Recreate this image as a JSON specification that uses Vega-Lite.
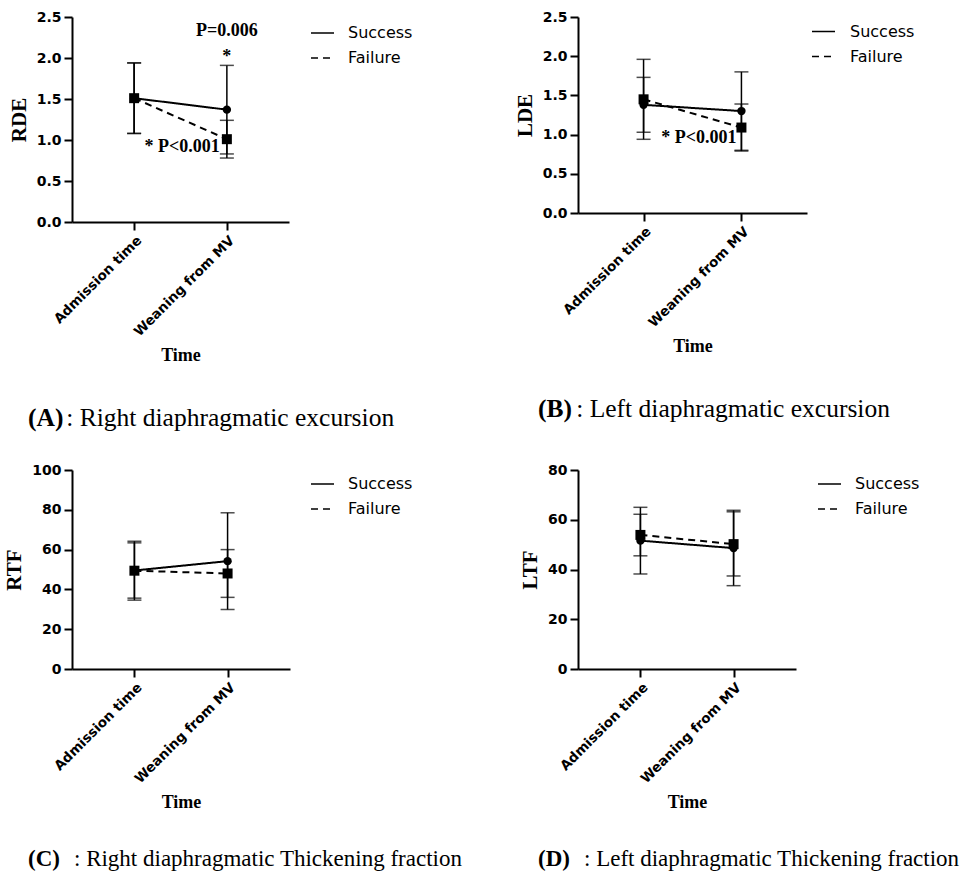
{
  "$schema": "https://vega.github.io/schema/vega-lite/v6.json",
  "padding": {"left": 3, "top": 10, "right": 0, "bottom": 0},
  "autosize": {"type": "pad"},
  "background": "white",
  "columns": 2,
  "bounds": "flush",
  "spacing": {"row": 248, "column": 288},
  "resolve": {"scale": {"strokeDash": "independent"}, "legend": {"strokeDash": "independent"}},
  "concat": [
    {
      "width": 217, "height": 205,
      "title": {"text": "(A)", "subtitle": "\u200b\u00a0\u00a0\u00a0\u00a0\u00a0\u00a0: Right diaphragmatic excursion", "dx": -44, "offset": 42, "fontSize": 25.5, "subtitleFontSize": 25.5, "subtitlePadding": -25.5},
      "data": {"values": [
        {"time": "Admission time", "group": "Success", "mean": 1.51, "lo": 1.08, "hi": 1.94},
        {"time": "Weaning from MV", "group": "Success", "mean": 1.37, "lo": 0.83, "hi": 1.91},
        {"time": "Admission time", "group": "Failure", "mean": 1.51, "lo": 1.08, "hi": 1.94},
        {"time": "Weaning from MV", "group": "Failure", "mean": 1.01, "lo": 0.78, "hi": 1.24}
      ]},
      "encoding": {
        "x": {"field": "time", "type": "ordinal", "scale": {"type": "point", "padding": 0.67, "domain": ["Admission time", "Weaning from MV"]}, "axis": {"title": "Time"}},
        "y": {"field": "mean", "type": "quantitative", "title": "RDE", "scale": {"domain": [0, 2.5], "nice": false}, "axis": {"values": [0, 0.5, 1, 1.5, 2, 2.5], "format": ".1f"}}
      },
      "layer": [
        {"mark": {"type": "errorbar", "ticks": true, "size": 14, "thickness": 1.5, "color": "black"},
         "encoding": {"y": {"field": "lo", "type": "quantitative", "title": "RDE", "scale": {"domain": [0, 2.5], "nice": false}}, "y2": {"field": "hi"}}},
        {"mark": {"type": "line", "color": "black", "strokeWidth": 2},
         "encoding": {"strokeDash": {"field": "group", "type": "nominal", "scale": {"domain": ["Success", "Failure"], "range": [[1, 0], [7, 5]]},
           "legend": {"title": null, "orient": "none", "legendX": 238, "legendY": 3.5, "symbolSize": 529, "labelFont": "DejaVu Sans", "labelFontSize": 16, "labelColor": "black", "labelOffset": 13, "rowPadding": 4,
             "encode": {"symbols": {"shape": {"value": {"expr": "datum.value === 'Success' ? 'M-1,0H1M-0.3,0A0.3,0.3 0 1,0 0.3,0A0.3,0.3 0 1,0 -0.3,0Z' : 'M-1.1,0H-0.6M0.6,0H1.1M-0.3,-0.3H0.3V0.3H-0.3Z'"}}, "stroke": {"value": "black"}, "strokeWidth": {"value": 2}, "strokeDash": {"value": [1, 0]}, "fill": {"value": "black"}, "opacity": {"value": 1}}}}}}},
        {"transform": [{"filter": "datum.group === 'Success'"}],
         "mark": {"type": "point", "filled": true, "shape": "circle", "color": "black", "opacity": 1, "size": 70}},
        {"transform": [{"filter": "datum.group === 'Failure'"}],
         "mark": {"type": "point", "filled": true, "shape": "square", "color": "black", "opacity": 1, "size": 100}},
        {"data": {"values": [{"time": "Weaning from MV", "v": 2.265, "label": "P=0.006"}, {"time": "Weaning from MV", "v": 1.95, "label": "*"}]},
         "mark": {"type": "text", "align": "center", "baseline": "alphabetic", "font": "Liberation Serif", "fontWeight": "bold", "fontSize": 18, "color": "black"},
         "encoding": {"y": {"field": "v", "type": "quantitative", "title": "RDE", "scale": {"domain": [0, 2.5], "nice": false}}, "text": {"field": "label"}}},
        {"data": {"values": [{"time": "Weaning from MV", "v": 0.857, "label": "* P<0.001"}]},
         "mark": {"type": "text", "align": "right", "dx": -7, "baseline": "alphabetic", "font": "Liberation Serif", "fontWeight": "bold", "fontSize": 18, "color": "black"},
         "encoding": {"y": {"field": "v", "type": "quantitative", "title": "RDE", "scale": {"domain": [0, 2.5], "nice": false}}, "text": {"field": "label"}}}
      ]
    },
    {
      "width": 229, "height": 196,
      "title": {"text": "(B)", "subtitle": "\u200b\u00a0\u00a0\u00a0\u00a0\u00a0\u00a0: Left diaphragmatic excursion", "dx": -40, "offset": 42, "fontSize": 25.5, "subtitleFontSize": 25.5, "subtitlePadding": -25.5},
      "data": {"values": [
        {"time": "Admission time", "group": "Success", "mean": 1.38, "lo": 1.03, "hi": 1.73},
        {"time": "Weaning from MV", "group": "Success", "mean": 1.30, "lo": 0.80, "hi": 1.80},
        {"time": "Admission time", "group": "Failure", "mean": 1.45, "lo": 0.94, "hi": 1.96},
        {"time": "Weaning from MV", "group": "Failure", "mean": 1.09, "lo": 0.79, "hi": 1.39}
      ]},
      "encoding": {
        "x": {"field": "time", "type": "ordinal", "scale": {"type": "point", "padding": 0.67, "domain": ["Admission time", "Weaning from MV"]}, "axis": {"title": "Time"}},
        "y": {"field": "mean", "type": "quantitative", "title": "LDE", "scale": {"domain": [0, 2.5], "nice": false}, "axis": {"values": [0, 0.5, 1, 1.5, 2, 2.5], "format": ".1f"}}
      },
      "layer": [
        {"mark": {"type": "errorbar", "ticks": true, "size": 14, "thickness": 1.5, "color": "black"},
         "encoding": {"y": {"field": "lo", "type": "quantitative", "title": "LDE", "scale": {"domain": [0, 2.5], "nice": false}}, "y2": {"field": "hi"}}},
        {"mark": {"type": "line", "color": "black", "strokeWidth": 2},
         "encoding": {"strokeDash": {"field": "group", "type": "nominal", "scale": {"domain": ["Success", "Failure"], "range": [[1, 0], [7, 5]]},
           "legend": {"title": null, "orient": "none", "legendX": 233, "legendY": 2, "symbolSize": 529, "labelFont": "DejaVu Sans", "labelFontSize": 16, "labelColor": "black", "labelOffset": 14, "rowPadding": 4,
             "encode": {"symbols": {"shape": {"value": {"expr": "datum.value === 'Success' ? 'M-1,0H1M-0.3,0A0.3,0.3 0 1,0 0.3,0A0.3,0.3 0 1,0 -0.3,0Z' : 'M-1.1,0H-0.6M0.6,0H1.1M-0.3,-0.3H0.3V0.3H-0.3Z'"}}, "stroke": {"value": "black"}, "strokeWidth": {"value": 2}, "strokeDash": {"value": [1, 0]}, "fill": {"value": "black"}, "opacity": {"value": 1}}}}}}},
        {"transform": [{"filter": "datum.group === 'Success'"}],
         "mark": {"type": "point", "filled": true, "shape": "circle", "color": "black", "opacity": 1, "size": 70}},
        {"transform": [{"filter": "datum.group === 'Failure'"}],
         "mark": {"type": "point", "filled": true, "shape": "square", "color": "black", "opacity": 1, "size": 100}},
        {"data": {"values": [{"time": "Weaning from MV", "v": 0.887, "label": "* P<0.001"}]},
         "mark": {"type": "text", "align": "right", "dx": -5, "baseline": "alphabetic", "font": "Liberation Serif", "fontWeight": "bold", "fontSize": 18, "color": "black"},
         "encoding": {"y": {"field": "v", "type": "quantitative", "title": "LDE", "scale": {"domain": [0, 2.5], "nice": false}}, "text": {"field": "label"}}}
      ]
    },
    {
      "width": 218, "height": 199,
      "title": {"text": "(C)", "subtitle": "\u200b\u00a0\u00a0\u00a0\u00a0\u00a0\u00a0\u00a0\u00a0: Right diaphragmatic Thickening fraction", "dx": -44, "offset": 37, "fontSize": 23, "subtitleFontSize": 23, "subtitlePadding": -23},
      "data": {"values": [
        {"time": "Admission time", "group": "Success", "mean": 49.5, "lo": 35.6, "hi": 63.4},
        {"time": "Weaning from MV", "group": "Success", "mean": 54.2, "lo": 29.9, "hi": 78.5},
        {"time": "Admission time", "group": "Failure", "mean": 49.4, "lo": 34.6, "hi": 64.2},
        {"time": "Weaning from MV", "group": "Failure", "mean": 48.0, "lo": 36.0, "hi": 60.0}
      ]},
      "encoding": {
        "x": {"field": "time", "type": "ordinal", "scale": {"type": "point", "padding": 0.67, "domain": ["Admission time", "Weaning from MV"]}, "axis": {"title": "Time"}},
        "y": {"field": "mean", "type": "quantitative", "title": "RTF", "scale": {"domain": [0, 100], "nice": false}, "axis": {"values": [0, 20, 40, 60, 80, 100]}}
      },
      "layer": [
        {"mark": {"type": "errorbar", "ticks": true, "size": 14, "thickness": 1.5, "color": "black"},
         "encoding": {"y": {"field": "lo", "type": "quantitative", "title": "RTF", "scale": {"domain": [0, 100], "nice": false}}, "y2": {"field": "hi"}}},
        {"mark": {"type": "line", "color": "black", "strokeWidth": 2},
         "encoding": {"strokeDash": {"field": "group", "type": "nominal", "scale": {"domain": ["Success", "Failure"], "range": [[1, 0], [7, 5]]},
           "legend": {"title": null, "orient": "none", "legendX": 238, "legendY": 1.5, "symbolSize": 529, "labelFont": "DejaVu Sans", "labelFontSize": 16, "labelColor": "black", "labelOffset": 13, "rowPadding": 4,
             "encode": {"symbols": {"shape": {"value": {"expr": "datum.value === 'Success' ? 'M-1,0H1M-0.3,0A0.3,0.3 0 1,0 0.3,0A0.3,0.3 0 1,0 -0.3,0Z' : 'M-1.1,0H-0.6M0.6,0H1.1M-0.3,-0.3H0.3V0.3H-0.3Z'"}}, "stroke": {"value": "black"}, "strokeWidth": {"value": 2}, "strokeDash": {"value": [1, 0]}, "fill": {"value": "black"}, "opacity": {"value": 1}}}}}}},
        {"transform": [{"filter": "datum.group === 'Success'"}],
         "mark": {"type": "point", "filled": true, "shape": "circle", "color": "black", "opacity": 1, "size": 70}},
        {"transform": [{"filter": "datum.group === 'Failure'"}],
         "mark": {"type": "point", "filled": true, "shape": "square", "color": "black", "opacity": 1, "size": 100}}
      ]
    },
    {
      "width": 218, "height": 199,
      "title": {"text": "(D)", "subtitle": "\u200b\u00a0\u00a0\u00a0\u00a0\u00a0\u00a0\u00a0\u00a0: Left diaphragmatic Thickening fraction", "dx": -40, "offset": 37, "fontSize": 23, "subtitleFontSize": 23, "subtitlePadding": -23},
      "data": {"values": [
        {"time": "Admission time", "group": "Success", "mean": 51.6, "lo": 38.2, "hi": 65.0},
        {"time": "Weaning from MV", "group": "Success", "mean": 48.6, "lo": 33.5, "hi": 63.8},
        {"time": "Admission time", "group": "Failure", "mean": 53.9, "lo": 45.5, "hi": 62.2},
        {"time": "Weaning from MV", "group": "Failure", "mean": 50.2, "lo": 37.4, "hi": 63.2}
      ]},
      "encoding": {
        "x": {"field": "time", "type": "ordinal", "scale": {"type": "point", "padding": 0.67, "domain": ["Admission time", "Weaning from MV"]}, "axis": {"title": "Time"}},
        "y": {"field": "mean", "type": "quantitative", "title": "LTF", "scale": {"domain": [0, 80], "nice": false}, "axis": {"values": [0, 20, 40, 60, 80]}}
      },
      "layer": [
        {"mark": {"type": "errorbar", "ticks": true, "size": 14, "thickness": 1.5, "color": "black"},
         "encoding": {"y": {"field": "lo", "type": "quantitative", "title": "LTF", "scale": {"domain": [0, 80], "nice": false}}, "y2": {"field": "hi"}}},
        {"mark": {"type": "line", "color": "black", "strokeWidth": 2},
         "encoding": {"strokeDash": {"field": "group", "type": "nominal", "scale": {"domain": ["Success", "Failure"], "range": [[1, 0], [7, 5]]},
           "legend": {"title": null, "orient": "none", "legendX": 239, "legendY": 1.5, "symbolSize": 529, "labelFont": "DejaVu Sans", "labelFontSize": 16, "labelColor": "black", "labelOffset": 13, "rowPadding": 4,
             "encode": {"symbols": {"shape": {"value": {"expr": "datum.value === 'Success' ? 'M-1,0H1M-0.3,0A0.3,0.3 0 1,0 0.3,0A0.3,0.3 0 1,0 -0.3,0Z' : 'M-1.1,0H-0.6M0.6,0H1.1M-0.3,-0.3H0.3V0.3H-0.3Z'"}}, "stroke": {"value": "black"}, "strokeWidth": {"value": 2}, "strokeDash": {"value": [1, 0]}, "fill": {"value": "black"}, "opacity": {"value": 1}}}}}}},
        {"transform": [{"filter": "datum.group === 'Success'"}],
         "mark": {"type": "point", "filled": true, "shape": "circle", "color": "black", "opacity": 1, "size": 70}},
        {"transform": [{"filter": "datum.group === 'Failure'"}],
         "mark": {"type": "point", "filled": true, "shape": "square", "color": "black", "opacity": 1, "size": 100}}
      ]
    }
  ],
  "config": {
    "view": {"stroke": null},
    "axis": {"domainColor": "black", "domainWidth": 2, "tickColor": "black", "tickWidth": 2, "tickSize": 8, "grid": false, "labelColor": "black", "labelFont": "DejaVu Sans", "labelFontWeight": "bold", "labelFontSize": 14, "titleFont": "Liberation Serif", "titleFontWeight": "bold", "titleColor": "black", "labelPadding": 3},
    "axisX": {"labelAngle": -45, "labelFontSize": 13.5, "titleFontSize": 18, "titlePadding": 8},
    "axisY": {"titleFontSize": 21, "titlePadding": 7},
    "title": {"orient": "bottom", "anchor": "start", "frame": "group", "font": "Liberation Serif", "fontSize": 25, "fontWeight": "bold", "color": "black", "subtitleFont": "Liberation Serif", "subtitleFontSize": 25, "subtitleFontWeight": "normal", "subtitleColor": "black", "subtitlePadding": -25}
  }
}
